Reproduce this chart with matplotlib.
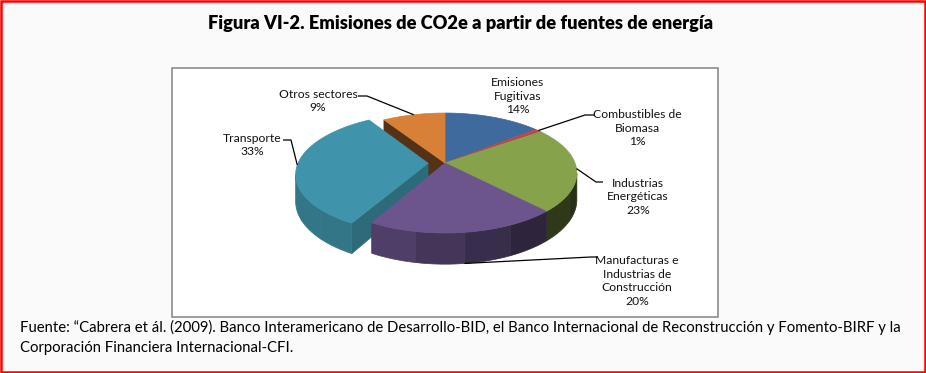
import numpy as np
import matplotlib
matplotlib.use("Agg")
import matplotlib.pyplot as plt
from matplotlib.patches import Polygon, Rectangle
from matplotlib.colors import to_rgb

# ---------------- data ----------------
categories = ["Emisiones\nFugitivas", "Combustibles de\nBiomasa", "Industrias\nEnergéticas",
              "Manufacturas e\nIndustrias de\nConstrucción", "Transporte", "Otros sectores"]
values = [14, 1, 23, 20, 33, 9]
explode = [0, 0, 0, 0, 0.13, 0]
colors = ["#3E6A9E", "#B84A47", "#86A34B", "#6B558C", "#3F93AA", "#D98038"]
radial_shade = [0.6, 0.6, 0.6, 0.6, 0.72, 0.39]

title = "Figura VI-2. Emisiones de CO2e a partir de fuentes de energía"
footer1 = ("Fuente: \u201cCabrera et ál. (2009). Banco Interamericano de Desarrollo-BID, el Banco "
           "Internacional de Reconstrucción y Fomento-BIRF y la")
footer2 = "Corporación Financiera Internacional-CFI."

# ---------------- layout (pixel space) ----------------
W, H = 926, 373
fig = plt.figure(figsize=(W / 100, H / 100), dpi=100, facecolor="#fafafa")
ax = fig.add_axes([0, 0, 1, 1])
ax.set_xlim(0, W)
ax.set_ylim(H, 0)
ax.axis("off")

FONT = ["Lato", "DejaVu Sans"]

# chart area box
ax.add_patch(Rectangle((172, 68), 546, 249, facecolor="white", edgecolor="#8c8c8c", lw=1.2, zorder=1))

# pie geometry
cx, cy, rx, ry, p, depth = 445.0, 163.0, 130.0, 58.3, 0.1667, 26.0
eye = np.array([0.0, -1.0 / p])


def proj(X, Y, z=0.0):
    s = 1.0 / (1.0 + p * Y)
    return cx + rx * X * s, cy - ry * Y * s + depth * z * s


def shade(c, f):
    r, g, b = to_rgb(c)
    return (r * f, g * f, b * f)


fracs = np.array(values, dtype=float) / np.sum(values)
bounds = np.concatenate([[0], np.cumsum(fracs)]) * 2 * np.pi
n = len(values)
offsets = []
for i in range(n):
    mid = 0.5 * (bounds[i] + bounds[i + 1])
    offsets.append(np.array([np.sin(mid), np.cos(mid)]) * explode[i])


def visible_outer(t, ox, oy):
    P = np.array([ox + np.sin(t), oy + np.cos(t)])
    nrm = np.array([np.sin(t), np.cos(t)])
    return np.dot(nrm, eye - P) > 0


side_polys = []  # (depthkey, pts, color)
top_polys = []
band = np.radians(22)
for i in range(n):
    t0, t1 = bounds[i], bounds[i + 1]
    ox, oy = offsets[i]
    th = np.linspace(t0, t1, max(3, int(np.ceil((t1 - t0) / np.radians(1))) + 1))
    # top face
    pts = [proj(ox, oy, 0)] + [proj(ox + np.sin(t), oy + np.cos(t), 0) for t in th]
    top_polys.append((pts, colors[i]))
    # outer side: visible part, split into bands
    vis = np.array([visible_outer(t, ox, oy) for t in th])
    if vis.any():
        tv = th[vis]
        a, b = tv[0], tv[-1]
        nb = max(1, int(np.ceil((b - a) / band)))
        edges = np.linspace(a, b, nb + 1)
        for ea, eb in zip(edges[:-1], edges[1:]):
            tt_ = np.linspace(ea, eb, max(2, int(np.ceil((eb - ea) / np.radians(1))) + 1))
            q = [proj(ox + np.sin(t), oy + np.cos(t), 0) for t in tt_] + \
                [proj(ox + np.sin(t), oy + np.cos(t), 1) for t in tt_[::-1]]
            m = 0.5 * (ea + eb)
            f = np.clip(0.62 - 0.34 * np.sin(m), 0.3, 0.8)
            side_polys.append((oy + np.cos(m), q, shade(colors[i], f)))
    # radial faces (only next to exploded slices)
    for t, nbr, sign in ((t0, (i - 1) % n, -1), (t1, (i + 1) % n, 1)):
        if explode[i] == 0 and explode[nbr] == 0:
            continue
        d = np.array([np.sin(t), np.cos(t)])
        nrm = sign * np.array([np.cos(t), -np.sin(t)])
        P = np.array([ox, oy]) + 0.5 * d
        if np.dot(nrm, eye - P) <= 0:
            continue
        q = [proj(ox, oy, 0), proj(ox + d[0], oy + d[1], 0), proj(ox + d[0], oy + d[1], 1), proj(ox, oy, 1)]
        side_polys.append((P[1], q, shade(colors[i], radial_shade[i])))

side_polys.sort(key=lambda s: -s[0])
for _, q, c in side_polys:
    ax.add_patch(Polygon(q, closed=True, facecolor=c, edgecolor=c, lw=0.5, zorder=2))
for q, c in top_polys:
    ax.add_patch(Polygon(q, closed=True, facecolor=c, edgecolor=c, lw=0.5, zorder=3))

# ---------------- labels ----------------
label_pos = [(518, 96), (637, 128), (638, 197), (637, 281), (252, 145), (318, 101)]
leader_pts = [None, [(585, 115), (594, 115)], [(596, 182), (603, 182)],
              [(591, 257), (598, 257)], [(291, 140), (283, 140)], [(367, 96), (358, 96)]]
anchor_z = [0, 0, 0, 1, 0, 0]
for i in range(n):
    mid = 0.5 * (bounds[i] + bounds[i + 1])
    ox, oy = offsets[i]
    ax.text(label_pos[i][0], label_pos[i][1], f"{categories[i]}\n{values[i]}%", ha="center", va="center",
            fontsize=8.7, family=FONT, linespacing=1.32, color="#111111", zorder=5)
    if leader_pts[i] is not None:
        a = proj(ox + np.sin(mid), oy + np.cos(mid), anchor_z[i])
        path = [a] + leader_pts[i]
        ax.plot([q[0] for q in path], [q[1] for q in path], color="black", lw=0.9, zorder=4,
                solid_capstyle="butt")

# ---------------- title & footer ----------------
tt = ax.text(461, 24, title, ha="center", va="center", fontsize=12, fontweight="heavy", family=FONT, color="black")
f1 = ax.text(20, 327, footer1, ha="left", va="center", fontsize=10, family=FONT, color="black")
f2 = ax.text(20, 348, footer2, ha="left", va="center", fontsize=10, family=FONT, color="black")

fig.canvas.draw()
r = fig.canvas.get_renderer()
w = tt.get_window_extent(r).width
tt.set_fontsize(12 * 503 / w)
w = f1.get_window_extent(r).width
fs = 10 * 882 / w
f1.set_fontsize(fs)
f2.set_fontsize(fs)

# red frame
ax.add_patch(Rectangle((1.2, 1.2), W - 2.4, H - 2.4, facecolor="none", edgecolor="#ff0000", lw=1.8, zorder=10))

fig.savefig("out.png", dpi=100, facecolor=fig.get_facecolor())
